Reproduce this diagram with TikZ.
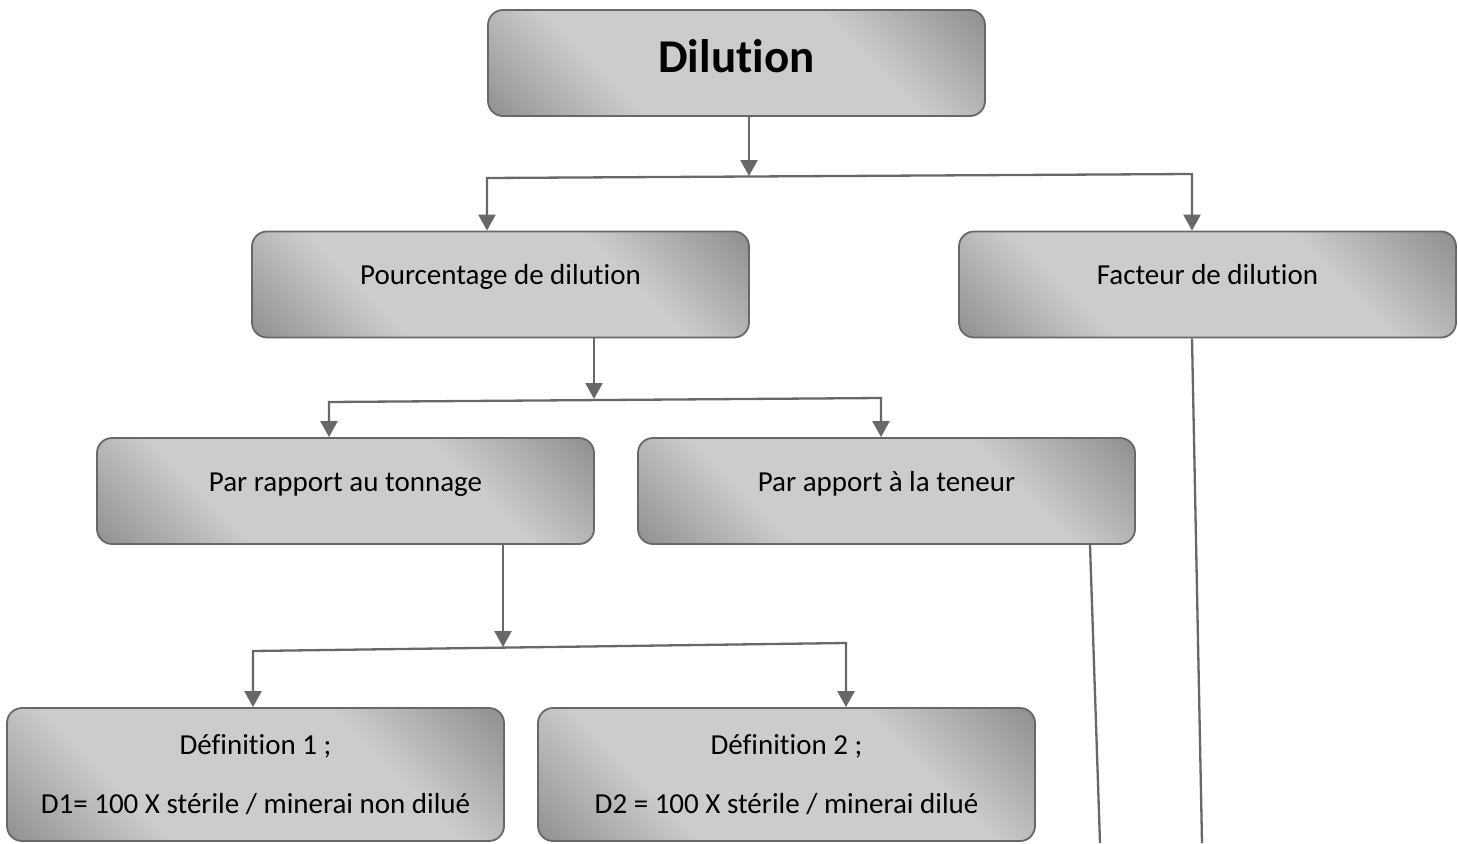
\documentclass[tikz,border=0pt]{standalone}
\usepackage{fontspec}
\setmainfont{Carlito}[RawFeature={-liga;-clig;-calt;-dlig}]
\usetikzlibrary{arrows.meta}
\definecolor{dk}{gray}{0.38}
\definecolor{lt}{gray}{0.80}
\definecolor{ln}{HTML}{686868}
\pgfdeclarehorizontalshading{boxshade}{100bp}{color(0bp)=(dk); color(33bp)=(lt); color(66bp)=(lt); color(100bp)=(dk)}
\tikzset{ah/.tip={Triangle[width=17pt,length=16pt]}}
\begin{document}
\begin{tikzpicture}[x=1pt,y=-1pt,
  boxbase/.style={draw=ln, line width=1.8pt, rounded corners=15pt, shading=boxshade, shading angle=45,
    minimum width=497pt, inner sep=0pt},
  box/.style={boxbase, minimum height=106pt, text height=0pt, text depth=0pt, font=\fontsize{29}{35}\selectfont},
  defbox/.style={boxbase, minimum height=133pt, align=center, font=\fontsize{29}{59}\selectfont},
  conn/.style={draw=ln, line width=2.3pt}]
\fill[white] (0,0) rectangle (1458,843);
\useasboundingbox (0,0) rectangle (1458,843);

\node[box, font={\fontsize{47}{56}\selectfont\bfseries}, text height=20pt, text depth=0pt] (dil) at (736.5,63) {Dilution};
\node[box] (pd) at (500.5,284.5) {Pourcentage de dilution};
\node[box] (fd) at (1207.5,284.5) {Facteur de dilution};
\node[box] (ton) at (345.5,491) {Par rapport au tonnage};
\node[box] (ten) at (886.5,491) {Par apport à la teneur};
\node[defbox] (d1) at (255.5,774.5) {Définition 1 ;\\D1= 100 X stérile / minerai non dilué};
\node[defbox] (d2) at (786.5,774.5) {Définition 2 ;\\D2 = 100 X stérile / minerai dilué};

% level 1
\coordinate (j1) at (749,176);
\coordinate (b1l) at (487,178);
\coordinate (b1r) at (1192,174);
\draw[conn, -{ah}] (dil.south -| j1) -- (j1);
\draw[conn, {ah}-{ah}] (pd.north -| b1l) -- (b1l) -- (b1r) -- (fd.north -| b1r);

% level 2
\coordinate (j2) at (594,399);
\coordinate (b2l) at (329,402);
\coordinate (b2r) at (881,398);
\draw[conn, -{ah}] (pd.south -| j2) -- (j2);
\draw[conn, {ah}-{ah}] (ton.north -| b2l) -- (b2l) -- (b2r) -- (ten.north -| b2r);

% level 3
\coordinate (j3) at (503,647);
\coordinate (b3l) at (253,651);
\coordinate (b3r) at (846,643);
\draw[conn, -{ah}] (ton.south -| j3) -- (j3);
\draw[conn, {ah}-{ah}] (d1.north -| b3l) -- (b3l) -- (b3r) -- (d2.north -| b3r);

% long lines
\coordinate (e1) at (1100,843);
\coordinate (e2) at (1202,843);
\draw[conn] ([xshift=203.5pt]ten.south) -- (e1);
\draw[conn] (fd.south -| b1r) -- (e2);
\end{tikzpicture}
\end{document}
